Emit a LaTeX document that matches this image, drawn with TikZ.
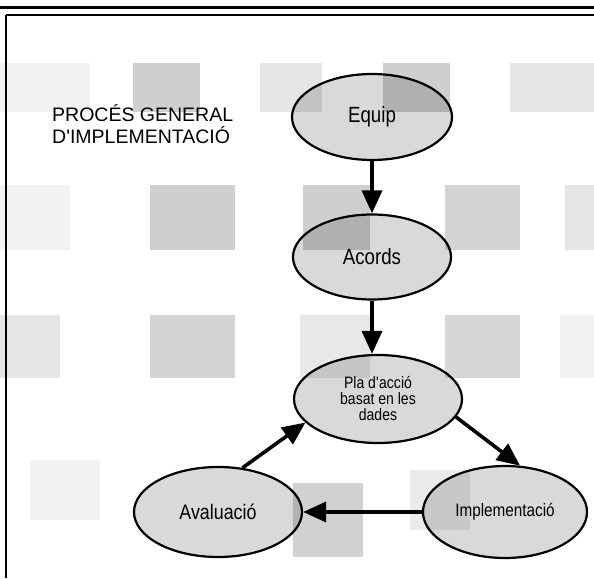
\documentclass[tikz,border=0pt]{standalone}
\usepackage{fontspec}
\setmainfont{Liberation Sans}
\newfontfamily\narrowsans[FakeStretch=0.85]{Liberation Sans}
\usetikzlibrary{shapes.geometric,arrows.meta}

\tikzset{
  tile/.style={fill=black, fill opacity=#1, draw=none},
  stage/.style={ellipse, draw=black, line width=2.2pt, fill=black, fill opacity=0.15,
    text opacity=1, inner sep=0pt, text=black},
  flow/.style={line width=3.6pt, draw=black,
    -{Triangle[length=23pt,width=20pt]}},
  frameline/.style={draw=black},
}

\begin{document}
\begin{tikzpicture}[x=1pt,y=-1pt]
  \useasboundingbox (0,0) rectangle (594,578);

  % faded checkered backdrop
  \fill[tile=0.05] (0,63) rectangle (90,112);
  \fill[tile=0.19] (133,63) rectangle (200,112);
  \fill[tile=0.10] (260,63) rectangle (322,112);
  \fill[tile=0.19] (383,63) rectangle (450,112);
  \fill[tile=0.10] (510,63) rectangle (594,112);

  \fill[tile=0.05] (0,185) rectangle (70,250);
  \fill[tile=0.19] (150,185) rectangle (235,250);
  \fill[tile=0.19] (303,185) rectangle (370,250);
  \fill[tile=0.17] (445,185) rectangle (520,250);
  \fill[tile=0.10] (565,185) rectangle (594,250);

  \fill[tile=0.10] (0,315) rectangle (60,378);
  \fill[tile=0.17] (150,315) rectangle (235,378);
  \fill[tile=0.09] (300,315) rectangle (370,378);
  \fill[tile=0.16] (445,315) rectangle (520,378);
  \fill[tile=0.05] (560,315) rectangle (594,378);

  \fill[tile=0.05] (30,460) rectangle (100,520);
  \fill[tile=0.18] (293,483) rectangle (363,557);
  \fill[tile=0.08] (410,470) rectangle (470,530);

  % frame
  \draw[frameline, line width=3pt] (0,7.5) -- (594,7.5);
  \draw[frameline, line width=1.2pt] (6,15) -- (594,15);
  \draw[frameline, line width=1.4pt] (6,15) -- (6,578);

  % title
  \node[anchor=north west, align=left, inner sep=0pt,
        font={\fontsize{19.5}{22}\selectfont}] (title) at (52,104)
    {PROCÉS GENERAL\\D\textquotesingle IMPLEMENTACIÓ};

  % stages
  \node[stage, minimum width=160pt, minimum height=86pt,
        font={\narrowsans\fontsize{22}{24}\selectfont}] (equip) at (372,117) {Equip};
  \node[stage, minimum width=158pt, minimum height=85pt,
        font={\narrowsans\fontsize{22}{24}\selectfont}] (acords) at (372,257) {Acords};
  \node[stage, minimum width=168pt, minimum height=88pt, align=center,
        font={\narrowsans\fontsize{16.5}{16}\selectfont}] (pla) at (378,399)
    {Pla d\textquotesingle acció\\basat en les\\dades};
  \node[stage, minimum width=168pt, minimum height=90pt,
        font={\narrowsans\fontsize{21}{23}\selectfont}] (aval) at (218,512) {Avaluació};
  \node[stage, minimum width=164pt, minimum height=92pt,
        font={\narrowsans\fontsize{18}{20}\selectfont}] (impl) at (505,512) {Implementació};

  % connectors
  \draw[flow] (equip.south) -- (acords.north);
  \draw[flow] (acords.south) -- (acords.south |- pla.north);
  \draw[flow] (pla.-13) -- (impl.72);
  \draw[flow] (impl.west) -- (aval.east);
  \draw[flow] (aval.61) -- (pla.-162);
\end{tikzpicture}
\end{document}
